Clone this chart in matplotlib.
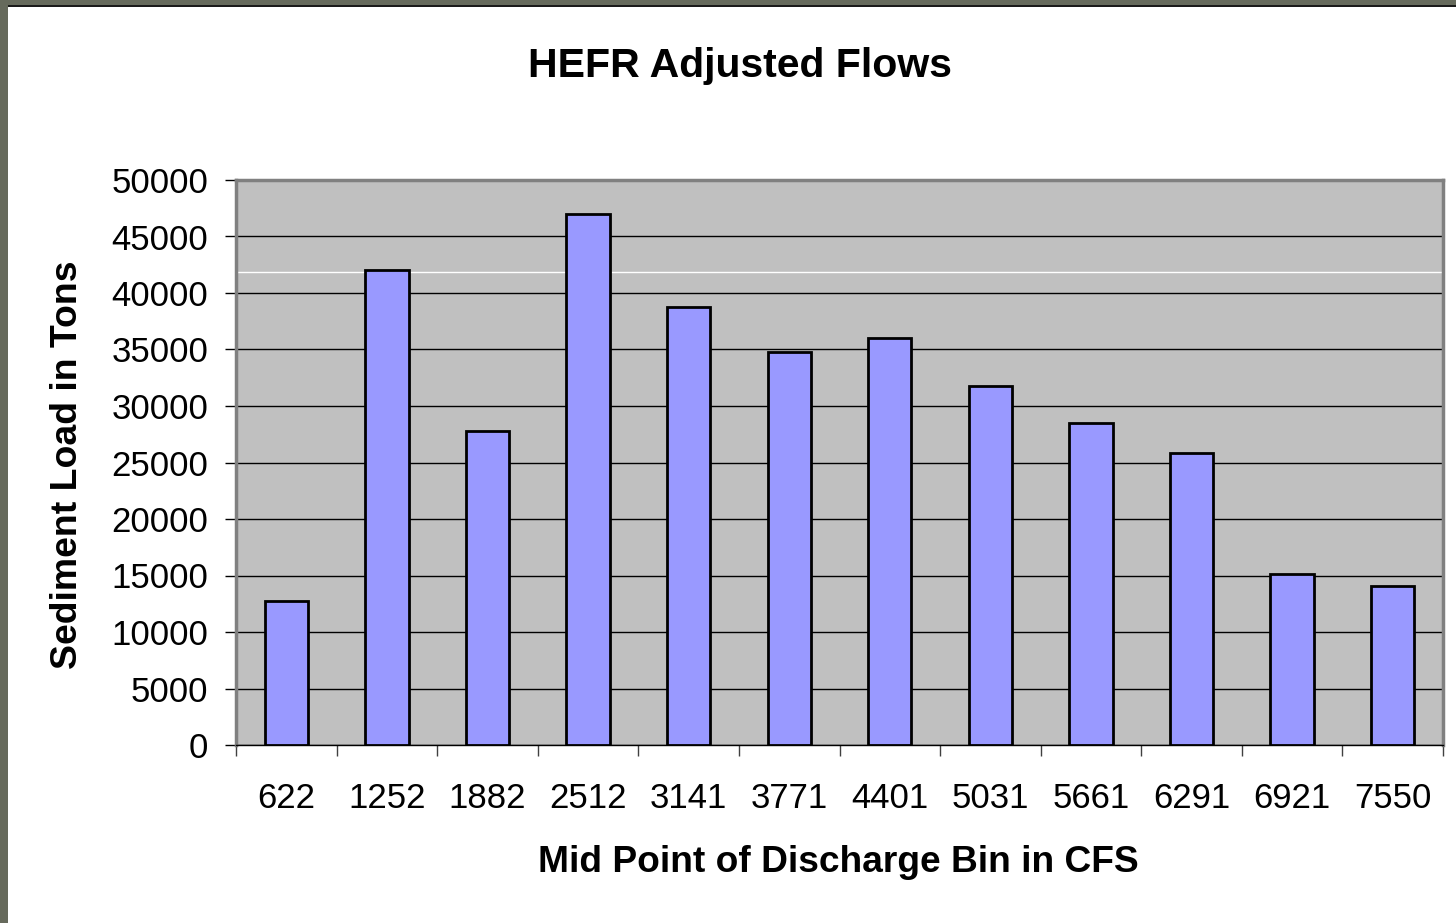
import numpy as np
import matplotlib.pyplot as plt
from matplotlib.patches import Rectangle

plt.rcParams['font.family'] = ['Liberation Sans', 'DejaVu Sans']

# Valeurs
discharge_bins = ['622', '1252', '1882', '2512', '3141', '3771', '4401',
                  '5031', '5661', '6291', '6921', '7550']
sediment_load = [12700, 42000, 27800, 47000, 38750, 34800, 36000,
                 31800, 28500, 25800, 15100, 14100]
y_ticks = [0, 5000, 10000, 15000, 20000, 25000, 30000, 35000, 40000, 45000, 50000]

W, H = 1456, 923
fig = plt.figure(figsize=(W / 100, H / 100), dpi=100)
fig.patch.set_facecolor('white')

# cadre gris a gauche et en haut
fig.patches.append(Rectangle((0, 0), 8 / W, 1, transform=fig.transFigure,
                             facecolor='#666a5c', edgecolor='none', zorder=0))
fig.patches.append(Rectangle((0, 1 - 5 / H), 1, 5 / H, transform=fig.transFigure,
                             facecolor='#666a5c', edgecolor='none', zorder=0))
fig.patches.append(Rectangle((8 / W, 1 - 7 / H), 1, 2 / H, transform=fig.transFigure,
                             facecolor='#1a1a1a', edgecolor='none', zorder=0))

ax = fig.add_axes([236 / W, 178 / H, 1207 / W, 565 / H])
ax.set_facecolor('#c0c0c0')

x = np.arange(len(discharge_bins))
ax.bar(x, sediment_load, width=0.43, color='#9999ff', edgecolor='black',
       linewidth=2, zorder=3)

ax.set_xlim(-0.5, len(discharge_bins) - 0.5)
ax.set_ylim(0, 50000)
ax.set_yticks(y_ticks)
ax.set_yticklabels([str(v) for v in y_ticks])
ax.yaxis.grid(True, color='black', linewidth=1, zorder=1)
ax.axhline(41850, color='white', linewidth=1, zorder=2)
ax.set_axisbelow(True)

ax.set_xticks(x)
ax.set_xticklabels(discharge_bins)
ax.set_xticks(np.arange(-0.5, len(discharge_bins)), minor=True)
ax.tick_params(axis='x', which='major', length=0, pad=27, labelsize=25)
ax.tick_params(axis='x', which='minor', length=8, color='#404040', width=1)
ax.tick_params(axis='y', length=8, color='black', width=1, pad=12, labelsize=25)

for side in ['top', 'right', 'left']:
    ax.spines[side].set_color('#808080')
    ax.spines[side].set_linewidth(2.5)
ax.spines['bottom'].set_color('black')
ax.spines['bottom'].set_linewidth(1)

fig.text(740 / W, 1 - 66 / H, 'HEFR Adjusted Flows', ha='center', va='center',
         fontsize=29.5, fontweight='bold')
fig.text(838 / W, 1 - 863 / H, 'Mid Point of Discharge Bin in CFS', ha='center',
         va='center', fontsize=26.7, fontweight='bold')
fig.text(68 / W, 1 - 465 / H, 'Sediment Load in Tons', ha='center', va='center',
         rotation=90, fontsize=26.9, fontweight='bold')

fig.savefig('out.png', dpi=100)
